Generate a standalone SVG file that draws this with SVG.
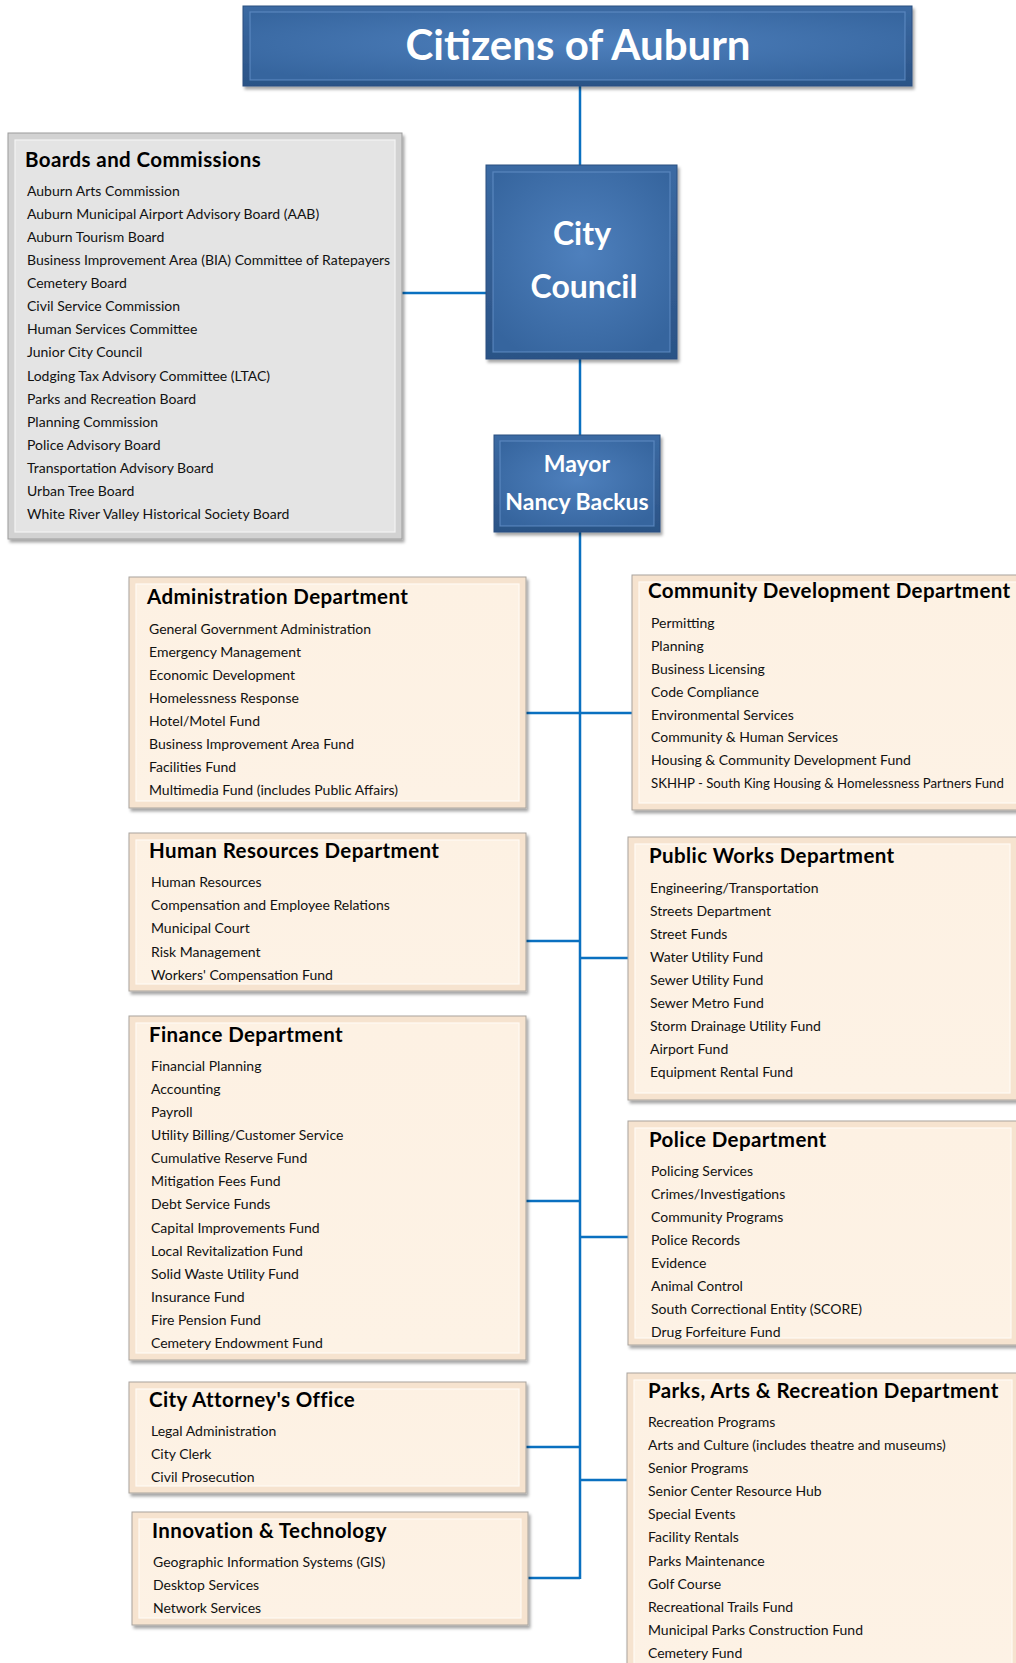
<svg xmlns="http://www.w3.org/2000/svg" width="1016" height="1663" viewBox="0 0 1016 1663">
<defs>
  <filter id="sh" x="-5%" y="-5%" width="110%" height="115%">
    <feDropShadow dx="2" dy="3" stdDeviation="1.8" flood-color="#000" flood-opacity="0.35"/>
  </filter>
  <radialGradient id="blueIn" cx="50%" cy="45%" r="65%">
    <stop offset="0" stop-color="#4e80bd"/>
    <stop offset="1" stop-color="#36659e"/>
  </radialGradient>
  <linearGradient id="blueOut" x1="0" y1="0" x2="0" y2="1">
    <stop offset="0" stop-color="#3b6aa3"/>
    <stop offset="1" stop-color="#2b5386"/>
  </linearGradient>
  <linearGradient id="creamIn" x1="0" y1="0" x2="0" y2="1">
    <stop offset="0" stop-color="#fdf1e3"/>
    <stop offset="1" stop-color="#fdf2e5"/>
  </linearGradient>
</defs>
<style>
  .conn{stroke:#0a70c0;stroke-width:2.5;fill:none}
  .bo{fill:url(#blueOut);stroke:#2a4f80;stroke-width:1}
  .bi{fill:url(#blueIn)}
  .bhl{fill:none;stroke:#6f9dd4;stroke-width:1.2;opacity:.6}
  .co{fill:#f6e3cf;stroke:#a9a49e;stroke-width:1}
  .ci{fill:url(#creamIn)}
  .chl{fill:none;stroke:#fffaf3;stroke-width:1.2}
  .go{fill:#d2d2d2;stroke:#9c9c9c;stroke-width:1}
  .gi{fill:#e4e4e4}
  .ghl{fill:none;stroke:#f4f4f4;stroke-width:1.2}
  .wt{font-family:Lato,"Open Sans","Liberation Sans",sans-serif;font-weight:700;fill:#ffffff;text-anchor:middle}
  .tt{font-family:Lato,"Open Sans","Liberation Sans",sans-serif;font-weight:700;font-size:20.5px;letter-spacing:0.4px;fill:#000}
  .it{font-family:Lato,"Open Sans","Liberation Sans",sans-serif;font-size:14px;fill:#111}
  .sm{font-size:13.2px}
</style>

<g id="connectors">
  <line class="conn" x1="580" y1="86" x2="580" y2="165"/>
  <line class="conn" x1="402" y1="293" x2="486" y2="293"/>
  <line class="conn" x1="580" y1="359" x2="580" y2="435"/>
  <line class="conn" x1="580" y1="532" x2="580" y2="1579"/>
  <line class="conn" x1="526" y1="713" x2="632" y2="713"/>
  <line class="conn" x1="526" y1="941" x2="580" y2="941"/>
  <line class="conn" x1="580" y1="958" x2="628" y2="958"/>
  <line class="conn" x1="526" y1="1201" x2="580" y2="1201"/>
  <line class="conn" x1="580" y1="1237" x2="628" y2="1237"/>
  <line class="conn" x1="526" y1="1447" x2="580" y2="1447"/>
  <line class="conn" x1="580" y1="1480" x2="627" y2="1480"/>
  <line class="conn" x1="528" y1="1578" x2="580" y2="1578"/>
</g>

<g id="citizens">
  <rect class="bo" x="243" y="6" width="669" height="80" filter="url(#sh)"/>
  <rect class="bi" x="250" y="12" width="655" height="68"/>
  <rect class="bhl" x="250" y="12" width="655" height="68"/>
  <text class="wt" x="578" y="60" font-size="42">Citizens of Auburn</text>
</g>

<g id="city-council">
  <rect class="bo" x="486" y="165" width="191" height="194" filter="url(#sh)"/>
  <rect class="bi" x="493" y="172" width="177" height="180"/>
  <rect class="bhl" x="493" y="172" width="177" height="180"/>
  <text class="wt" x="582" y="245" font-size="32">City</text>
  <text class="wt" x="584" y="298" font-size="32">Council</text>
</g>

<g id="mayor">
  <rect class="bo" x="494" y="435" width="166" height="97" filter="url(#sh)"/>
  <rect class="bi" x="500" y="441" width="154" height="85"/>
  <rect class="bhl" x="500" y="441" width="154" height="85"/>
  <text class="wt" x="577" y="472" font-size="23">Mayor</text>
  <text class="wt" x="577" y="510" font-size="23">Nancy Backus</text>
</g>

<g id="boards">
  <rect class="go" x="8" y="133" width="394" height="406" filter="url(#sh)"/>
  <rect class="gi" x="15" y="140" width="380" height="392"/>
  <rect class="ghl" x="15" y="140" width="380" height="392"/>
  <text class="tt" x="25" y="167">Boards and Commissions</text>
  <text class="it" x="27" y="196">Auburn Arts Commission</text>
  <text class="it" x="27" y="219">Auburn Municipal Airport Advisory Board (AAB)</text>
  <text class="it" x="27" y="242">Auburn Tourism Board</text>
  <text class="it" x="27" y="265">Business Improvement Area (BIA) Committee of Ratepayers</text>
  <text class="it" x="27" y="288">Cemetery Board</text>
  <text class="it" x="27" y="311">Civil Service Commission</text>
  <text class="it" x="27" y="334">Human Services Committee</text>
  <text class="it" x="27" y="357">Junior City Council</text>
  <text class="it" x="27" y="381">Lodging Tax Advisory Committee (LTAC)</text>
  <text class="it" x="27" y="404">Parks and Recreation Board</text>
  <text class="it" x="27" y="427">Planning Commission</text>
  <text class="it" x="27" y="450">Police Advisory Board</text>
  <text class="it" x="27" y="473">Transportation Advisory Board</text>
  <text class="it" x="27" y="496">Urban Tree Board</text>
  <text class="it" x="27" y="519">White River Valley Historical Society Board</text>
</g>

<g id="administration">
  <rect class="co" x="129" y="577" width="397" height="231" filter="url(#sh)"/>
  <rect class="ci" x="136" y="584" width="383" height="217"/>
  <rect class="chl" x="136" y="584" width="383" height="217"/>
  <text class="tt" x="147" y="604">Administration Department</text>
  <text class="it" x="149" y="634">General Government Administration</text>
  <text class="it" x="149" y="657">Emergency Management</text>
  <text class="it" x="149" y="680">Economic Development</text>
  <text class="it" x="149" y="703">Homelessness Response</text>
  <text class="it" x="149" y="726">Hotel/Motel Fund</text>
  <text class="it" x="149" y="749">Business Improvement Area Fund</text>
  <text class="it" x="149" y="772">Facilities Fund</text>
  <text class="it" x="149" y="795">Multimedia Fund (includes Public Affairs)</text>
</g>

<g id="community-development">
  <rect class="co" x="632" y="575" width="392" height="235" filter="url(#sh)"/>
  <rect class="ci" x="639" y="582" width="378" height="221"/>
  <rect class="chl" x="639" y="582" width="378" height="221"/>
  <text class="tt" x="648" y="598">Community Development Department</text>
  <text class="it" x="651" y="628">Permitting</text>
  <text class="it" x="651" y="651">Planning</text>
  <text class="it" x="651" y="674">Business Licensing</text>
  <text class="it" x="651" y="697">Code Compliance</text>
  <text class="it" x="651" y="720">Environmental Services</text>
  <text class="it" x="651" y="742">Community &amp; Human Services</text>
  <text class="it" x="651" y="765">Housing &amp; Community Development Fund</text>
  <text class="it sm" x="651" y="788">SKHHP - South King Housing &amp; Homelessness Partners Fund</text>
</g>

<g id="human-resources">
  <rect class="co" x="129" y="833" width="397" height="158" filter="url(#sh)"/>
  <rect class="ci" x="136" y="840" width="383" height="144"/>
  <rect class="chl" x="136" y="840" width="383" height="144"/>
  <text class="tt" x="149" y="858">Human Resources Department</text>
  <text class="it" x="151" y="887">Human Resources</text>
  <text class="it" x="151" y="910">Compensation and Employee Relations</text>
  <text class="it" x="151" y="933">Municipal Court</text>
  <text class="it" x="151" y="957">Risk Management</text>
  <text class="it" x="151" y="980">Workers' Compensation Fund</text>
</g>

<g id="public-works">
  <rect class="co" x="628" y="837" width="389" height="263" filter="url(#sh)"/>
  <rect class="ci" x="635" y="844" width="375" height="249"/>
  <rect class="chl" x="635" y="844" width="375" height="249"/>
  <text class="tt" x="649" y="863">Public Works Department</text>
  <text class="it" x="650" y="893">Engineering/Transportation</text>
  <text class="it" x="650" y="916">Streets Department</text>
  <text class="it" x="650" y="939">Street Funds</text>
  <text class="it" x="650" y="962">Water Utility Fund</text>
  <text class="it" x="650" y="985">Sewer Utility Fund</text>
  <text class="it" x="650" y="1008">Sewer Metro Fund</text>
  <text class="it" x="650" y="1031">Storm Drainage Utility Fund</text>
  <text class="it" x="650" y="1054">Airport Fund</text>
  <text class="it" x="650" y="1077">Equipment Rental Fund</text>
</g>

<g id="finance">
  <rect class="co" x="129" y="1016" width="397" height="344" filter="url(#sh)"/>
  <rect class="ci" x="136" y="1023" width="383" height="330"/>
  <rect class="chl" x="136" y="1023" width="383" height="330"/>
  <text class="tt" x="149" y="1042">Finance Department</text>
  <text class="it" x="151" y="1071">Financial Planning</text>
  <text class="it" x="151" y="1094">Accounting</text>
  <text class="it" x="151" y="1117">Payroll</text>
  <text class="it" x="151" y="1140">Utility Billing/Customer Service</text>
  <text class="it" x="151" y="1163">Cumulative Reserve Fund</text>
  <text class="it" x="151" y="1186">Mitigation Fees Fund</text>
  <text class="it" x="151" y="1209">Debt Service Funds</text>
  <text class="it" x="151" y="1233">Capital Improvements Fund</text>
  <text class="it" x="151" y="1256">Local Revitalization Fund</text>
  <text class="it" x="151" y="1279">Solid Waste Utility Fund</text>
  <text class="it" x="151" y="1302">Insurance Fund</text>
  <text class="it" x="151" y="1325">Fire Pension Fund</text>
  <text class="it" x="151" y="1348">Cemetery Endowment Fund</text>
</g>

<g id="police">
  <rect class="co" x="628" y="1121" width="390" height="224" filter="url(#sh)"/>
  <rect class="ci" x="635" y="1128" width="376" height="210"/>
  <rect class="chl" x="635" y="1128" width="376" height="210"/>
  <text class="tt" x="649" y="1147">Police Department</text>
  <text class="it" x="651" y="1176">Policing Services</text>
  <text class="it" x="651" y="1199">Crimes/Investigations</text>
  <text class="it" x="651" y="1222">Community Programs</text>
  <text class="it" x="651" y="1245">Police Records</text>
  <text class="it" x="651" y="1268">Evidence</text>
  <text class="it" x="651" y="1291">Animal Control</text>
  <text class="it" x="651" y="1314">South Correctional Entity (SCORE)</text>
  <text class="it" x="651" y="1337">Drug Forfeiture Fund</text>
</g>

<g id="city-attorney">
  <rect class="co" x="129" y="1382" width="397" height="111" filter="url(#sh)"/>
  <rect class="ci" x="136" y="1389" width="383" height="97"/>
  <rect class="chl" x="136" y="1389" width="383" height="97"/>
  <text class="tt" x="149" y="1407">City Attorney's Office</text>
  <text class="it" x="151" y="1436">Legal Administration</text>
  <text class="it" x="151" y="1459">City Clerk</text>
  <text class="it" x="151" y="1482">Civil Prosecution</text>
</g>

<g id="innovation-technology">
  <rect class="co" x="132" y="1512" width="396" height="113" filter="url(#sh)"/>
  <rect class="ci" x="139" y="1519" width="382" height="99"/>
  <rect class="chl" x="139" y="1519" width="382" height="99"/>
  <text class="tt" x="152" y="1538">Innovation &amp; Technology</text>
  <text class="it" x="153" y="1567">Geographic Information Systems (GIS)</text>
  <text class="it" x="153" y="1590">Desktop Services</text>
  <text class="it" x="153" y="1613">Network Services</text>
</g>

<g id="parks-arts-recreation">
  <rect class="co" x="627" y="1373" width="392" height="310" filter="url(#sh)"/>
  <rect class="ci" x="634" y="1380" width="378" height="296"/>
  <rect class="chl" x="634" y="1380" width="378" height="296"/>
  <text class="tt" x="648" y="1398">Parks, Arts &amp; Recreation Department</text>
  <text class="it" x="648" y="1427">Recreation Programs</text>
  <text class="it" x="648" y="1450">Arts and Culture (includes theatre and museums)</text>
  <text class="it" x="648" y="1473">Senior Programs</text>
  <text class="it" x="648" y="1496">Senior Center Resource Hub</text>
  <text class="it" x="648" y="1519">Special Events</text>
  <text class="it" x="648" y="1542">Facility Rentals</text>
  <text class="it" x="648" y="1566">Parks Maintenance</text>
  <text class="it" x="648" y="1589">Golf Course</text>
  <text class="it" x="648" y="1612">Recreational Trails Fund</text>
  <text class="it" x="648" y="1635">Municipal Parks Construction Fund</text>
  <text class="it" x="648" y="1658">Cemetery Fund</text>
</g>
</svg>
